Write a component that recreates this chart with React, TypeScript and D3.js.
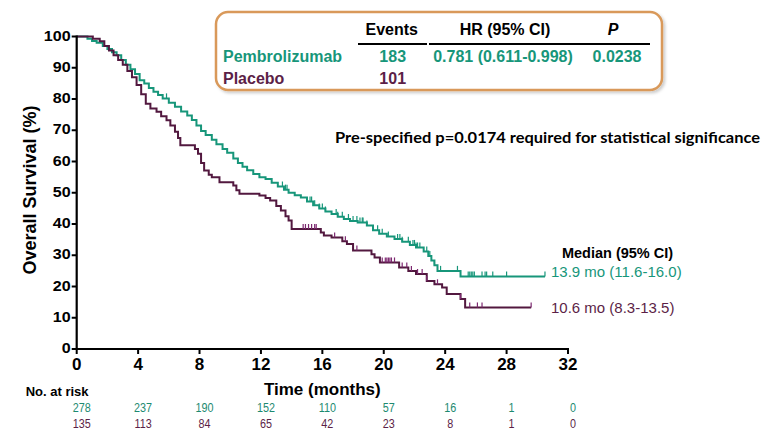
import React from 'react';
import * as d3 from 'd3';

const xTicks = [0, 4, 8, 12, 16, 20, 24, 28, 32];
const yTicks = [0, 10, 20, 30, 40, 50, 60, 70, 80, 90, 100];

const pembroTimes = [0, 0.7, 1.0, 1.3, 1.7, 2.0, 2.3, 2.6, 2.9, 3.2, 3.5, 3.8, 4.1, 4.4, 4.7, 5.0, 5.3, 5.6, 6.0, 6.4, 6.8, 7.2, 7.5, 7.8, 8.1, 8.4, 8.8, 9.1, 9.5, 9.8, 10.2, 10.5, 10.8, 11.1, 11.5, 11.9, 12.3, 12.7, 13.1, 13.5, 13.8, 14.2, 14.6, 15.0, 15.4, 15.8, 16.2, 16.6, 17.0, 17.4, 17.8, 18.3, 18.9, 19.3, 19.7, 20.2, 20.7, 21.2, 21.7, 22.1, 22.6, 22.9, 23.1, 23.3, 23.5, 25.0];
const pembroSurv = [100, 99.3, 98.6, 98, 97, 96, 95, 94, 92.5, 91, 89.5, 88, 86, 85, 83.5, 82.3, 81.3, 80.2, 78.8, 77.5, 76, 74.7, 73.3, 71.5, 69.8, 68.5, 67, 65.5, 64, 62.8, 61, 59.5, 58.3, 57.2, 56, 55, 54.4, 53.2, 52, 51, 50, 49.2, 48.5, 47.2, 46, 45, 44, 43.2, 42.3, 41.6, 41, 40.5, 39.5, 38, 36.9, 36, 35.2, 34.3, 33.3, 32.5, 31.2, 29.8, 28.3, 26.8, 25, 23.2];
const pembroEnd = 30.5;
const pembroCensor = [5.85, 13.4, 13.6, 13.7, 15.2, 15.3, 15.5, 15.8, 16.0, 16.2, 16.9, 17.0, 17.3, 17.7, 18.0, 18.25, 18.45, 18.6, 18.65, 18.9, 19.6, 19.9, 20.3, 20.9, 21.05, 21.2, 21.6, 21.9, 22.0, 22.1, 22.2, 22.35, 22.8, 23.0, 23.3, 23.7, 24.8, 25.5, 25.6, 25.7, 25.8, 25.9, 26.4, 26.6, 26.7, 27.1, 28.0, 30.5];

const placeboTimes = [0, 1.05, 1.5, 1.8, 2.1, 2.4, 2.7, 3.0, 3.3, 3.6, 3.9, 4.2, 4.5, 4.8, 5.2, 5.5, 5.85, 6.1, 6.4, 6.6, 6.75, 7.7, 7.9, 8.1, 8.3, 8.6, 8.8, 9.3, 10.2, 10.4, 10.6, 11.9, 12.3, 12.6, 13.0, 13.3, 13.6, 13.8, 14.0, 15.9, 16.1, 16.6, 17.3, 17.6, 18.0, 19.2, 19.4, 19.75, 21.0, 21.6, 22.1, 22.8, 23.3, 23.8, 24.1, 25.0, 25.3];
const placeboSurv = [100, 99.3, 98.5, 97, 95.5, 94, 92.5, 91, 89, 87, 84.5, 81.5, 78.5, 77, 75.9, 74.5, 73.2, 71.5, 69.5, 67.5, 65.2, 64, 62.5, 59.5, 57.1, 55.8, 55, 53.4, 52.3, 50.8, 49.7, 49.1, 48.3, 47.5, 45.8, 44.3, 42.5, 41.1, 38.4, 37.3, 36.3, 35.7, 34.5, 33.6, 31.5, 30.3, 29.3, 27.7, 26.1, 25, 24, 21.8, 20.7, 19.7, 17.6, 16, 13.3];
const placeboEnd = 29.6;
const placeboCensor = [14.75, 14.9, 15.1, 15.3, 15.5, 15.6, 16.8, 17.5, 18.25, 19.9, 20.1, 20.2, 20.3, 20.4, 20.5, 20.7, 21.2, 21.5, 21.8, 22.2, 22.5, 22.8, 23.5, 25.0, 25.6, 26.1, 26.4, 29.6];

const riskTimes = [0, 4, 8, 12, 16, 20, 24, 28, 32];
const pembroRisk = [278, 237, 190, 152, 110, 57, 16, 1, 0];
const placeboRisk = [135, 113, 84, 65, 42, 23, 8, 1, 0];

const TEAL = '#17967a';
const TEAL_RISK = '#1d8a70';
const PURPLE = '#52183f';
const PURPLE_TXT = '#5c1f47';
const PURPLE_CENSOR = '#7d2870';
const FONT = '"Liberation Sans", Arial, sans-serif';

export default function App() {
  const x = d3.scaleLinear().domain([0, 32]).range([76.7, 568]);
  const y = d3.scaleLinear().domain([0, 100]).range([349, 36.5]);

  const line = d3
    .line<[number, number]>()
    .x((d) => x(d[0]))
    .y((d) => y(d[1]))
    .curve(d3.curveStepAfter);

  const makePts = (ts: number[], ss: number[], end: number): [number, number][] => {
    const pts: [number, number][] = ts.map((t, i) => [t, ss[i]]);
    pts.push([end, ss[ss.length - 1]]);
    return pts;
  };
  const survAt = (ts: number[], ss: number[], t: number) => {
    const i = d3.bisectRight(ts, t) - 1;
    return ss[Math.max(0, i)];
  };

  const series = [
    { ts: pembroTimes, ss: pembroSurv, end: pembroEnd, cens: pembroCensor, color: TEAL, cColor: TEAL },
    { ts: placeboTimes, ss: placeboSurv, end: placeboEnd, cens: placeboCensor, color: PURPLE, cColor: PURPLE_CENSOR },
  ];

  return (
    <svg width={765} height={443} style={{ position: 'absolute', left: 0, top: 0, background: '#fff' }} fontFamily={FONT}>
      <defs>
        <filter id="sh" x="-5%" y="-10%" width="115%" height="130%">
          <feDropShadow dx="2" dy="2" stdDeviation="1.5" floodColor="#000" floodOpacity="0.2" />
        </filter>
      </defs>
      <rect x={0} y={0} width={765} height={443} fill="#fff" />

      {/* curves */}
      {series.map((s, k) => (
        <g key={k}>
          <path d={line(makePts(s.ts, s.ss, s.end)) || ''} fill="none" stroke={s.color} strokeWidth={2} />
          {s.cens.map((c, i) => {
            const v = survAt(s.ts, s.ss, c);
            return <line key={i} x1={x(c)} x2={x(c)} y1={y(v)} y2={y(v) - 5} stroke={s.cColor} strokeWidth={1.2} />;
          })}
        </g>
      ))}

      {/* axes */}
      <line x1={x(0)} x2={x(0)} y1={y(100) - 1} y2={y(0) + 1} stroke="#000" strokeWidth={2.2} />
      <line x1={x(0) - 1} x2={x(32) + 1} y1={y(0)} y2={y(0)} stroke="#000" strokeWidth={2.2} />
      {yTicks.map((t) => (
        <g key={'y' + t}>
          <line x1={x(0) - 5} x2={x(0)} y1={y(t)} y2={y(t)} stroke="#000" strokeWidth={2} />
          <text
            transform={`translate(${x(0) - 6},${y(t) + 4}) scale(1.15,1)`}
            textAnchor="end"
            fontSize={14}
            fontWeight="bold"
          >
            {t}
          </text>
        </g>
      ))}
      {xTicks.map((t) => (
        <g key={'x' + t}>
          <line x1={x(t)} x2={x(t)} y1={y(0)} y2={y(0) + 5} stroke="#000" strokeWidth={2} />
          <text x={x(t)} y={370} textAnchor="middle" fontSize={17} fontWeight="bold">
            {t}
          </text>
        </g>
      ))}
      <text x={x(16)} y={395} textAnchor="middle" fontSize={17} fontWeight="bold">
        Time (months)
      </text>
      <text transform={`translate(36,190) rotate(-90)`} textAnchor="middle" fontSize={18} fontWeight="bold">
        Overall Survival (%)
      </text>

      {/* risk table */}
      <text x={25.7} y={395.7} fontSize={13} fontWeight="bold">
        No. at risk
      </text>
      {riskTimes.map((t, i) => (
        <g key={'r' + i}>
          <text transform={`translate(${x(t) + 5},412.3) scale(0.8,1)`} textAnchor="middle" fontSize={13.5} fill={TEAL_RISK}>
            {pembroRisk[i]}
          </text>
          <text transform={`translate(${x(t) + 5},427.7) scale(0.8,1)`} textAnchor="middle" fontSize={13.5} fill={PURPLE_TXT}>
            {placeboRisk[i]}
          </text>
        </g>
      ))}

      {/* legend box */}
      <rect x={216} y={12} width={446} height={78} rx={12} fill="#fff" stroke="#d9995a" strokeWidth={2.5} filter="url(#sh)" />
      <g fontSize={16} fontWeight="bold">
        <text x={391.7} y={35} textAnchor="middle">Events</text>
        <text x={505} y={35} textAnchor="middle">HR (95% CI)</text>
        <text x={613} y={35} textAnchor="middle" fontStyle="italic">P</text>
        <line x1={358} x2={427} y1={44} y2={44} stroke="#000" strokeWidth={2} />
        <line x1={429} x2={650} y1={44} y2={44} stroke="#000" strokeWidth={2} />
        <text x={223} y={62} fill={TEAL}>Pembrolizumab</text>
        <text x={392.7} y={62} textAnchor="middle" fill={TEAL}>183</text>
        <text x={503} y={62} textAnchor="middle" fill={TEAL}>0.781 (0.611-0.998)</text>
        <text x={617} y={62} textAnchor="middle" fill={TEAL}>0.0238</text>
        <text x={223} y={83.5} fill={PURPLE_TXT}>Placebo</text>
        <text x={392.7} y={83.5} textAnchor="middle" fill={PURPLE_TXT}>101</text>
      </g>

      <text x={335} y={143} fontSize={15.5} fontWeight="bold" fontFamily='Lato, "Open Sans", sans-serif' textLength={425} lengthAdjust="spacingAndGlyphs">
        Pre-specified p=0.0174 required for statistical significance
      </text>

      {/* medians */}
      <text x={617.5} y={258} textAnchor="middle" fontSize={14.5} fontWeight="bold">
        Median (95% CI)
      </text>
      <text x={551} y={277} fontSize={15} fill={TEAL}>
        13.9 mo (11.6-16.0)
      </text>
      <text x={551} y={313} fontSize={15} fill={PURPLE_TXT}>
        10.6 mo (8.3-13.5)
      </text>
    </svg>
  );
}
